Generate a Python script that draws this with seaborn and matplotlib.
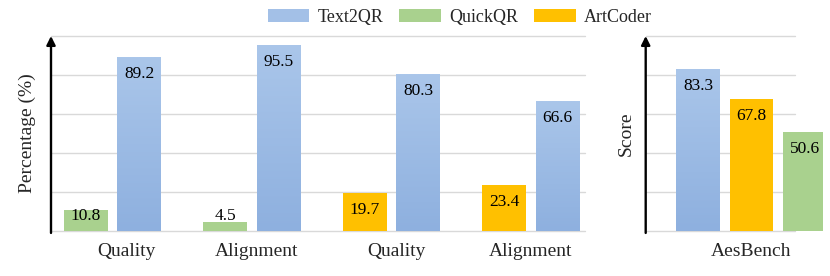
import numpy as np
import pandas as pd
import matplotlib
matplotlib.use('Agg')
import matplotlib.pyplot as plt
import seaborn as sns
from matplotlib.patches import Patch
from matplotlib.colors import LinearSegmentedColormap

# data
groups = ['Quality', 'Alignment', 'Quality', 'Alignment']
baseline_methods = ['QuickQR', 'QuickQR', 'ArtCoder', 'ArtCoder']
baseline_values = [10.8, 4.5, 19.7, 23.4]
text2qr_values = [89.2, 95.5, 80.3, 66.6]

aes_methods = ['Text2QR', 'ArtCoder', 'QuickQR']
aes_scores = [83.3, 67.8, 50.6]

legend_order = ['Text2QR', 'QuickQR', 'ArtCoder']
colors = {'Text2QR': '#a3c0e7', 'QuickQR': '#a9d18e', 'ArtCoder': '#ffc000'}
blue_grad = LinearSegmentedColormap.from_list('blue', ['#8eb0df', '#aac6ea'])

sns.set_style('white')
plt.rcParams['font.family'] = ['Liberation Serif', 'DejaVu Serif']

fig = plt.figure(figsize=(8.3, 2.76), dpi=100)
ax1 = fig.add_axes([51 / 830, 45 / 276, 534 / 830, 195 / 276])
ax2 = fig.add_axes([645.7 / 830, 45 / 276, 177.3 / 830, 195 / 276])

# left panel
n = len(groups)
df = pd.DataFrame({
    'gid': [f'g{i}' for i in range(n)] * 2,
    'value': baseline_values + text2qr_values,
    'slot': ['baseline'] * n + ['Text2QR'] * n,
})
sns.barplot(data=df, x='gid', y='value', hue='slot', hue_order=['baseline', 'Text2QR'],
            width=0.767, gap=0.18, saturation=1, errorbar=None, legend=False, ax=ax1)

for bar, m in zip(ax1.containers[0], baseline_methods):
    bar.set_facecolor(colors[m])
    bar.set_edgecolor('none')


def gradient(ax, bar):
    x0, y0 = bar.get_x(), bar.get_y()
    w, h = bar.get_width(), bar.get_height()
    g = np.linspace(0, 1, 100).reshape(-1, 1)
    im = ax.imshow(g, extent=[x0, x0 + w, y0, y0 + h], origin='lower', cmap=blue_grad,
                   aspect='auto', zorder=bar.get_zorder() + 0.1)
    im.set_clip_path(bar)
    bar.set_edgecolor('none')


for bar in ax1.containers[1]:
    gradient(ax1, bar)


def label_bars(ax, bars):
    for bar in bars:
        h = bar.get_height()
        ax.text(bar.get_x() + bar.get_width() / 2, max(h - 8.7, 7.7), f'{h:.1f}',
                ha='center', va='center', fontsize=12.5, color='black', zorder=5)


label_bars(ax1, ax1.containers[0])
label_bars(ax1, ax1.containers[1])

ax1.set_xlim(-0.441, 3.387)
ax1.set_xticks([0.1, 1.03, 2.035, 3.0])
ax1.set_xticklabels(groups, fontsize=14)
ax1.set_ylabel('Percentage (%)', fontsize=14, labelpad=11)
ax1.set_xlabel('')

# right panel
sns.barplot(x=aes_methods, y=aes_scores, hue=aes_methods, hue_order=aes_methods,
            palette=[colors[m] for m in aes_methods], width=0.83, saturation=1,
            errorbar=None, legend=False, ax=ax2)
for c in ax2.containers:
    for bar in c:
        bar.set_edgecolor('none')
gradient(ax2, ax2.containers[0][0])
for c in ax2.containers:
    label_bars(ax2, c)

ax2.set_xlim(-0.996, 2.349)
ax2.set_xticks([1])
ax2.set_xticklabels(['AesBench'], fontsize=14)
ax2.set_ylabel('Score', fontsize=14, labelpad=8)

for ax, gmax in [(ax1, 1.0), (ax2, (795 - 645.7) / 177.3)]:
    ax.set_ylim(0, 100)
    ax.set_yticks([])
    for y in range(0, 101, 20):
        ax.axhline(y, xmin=0, xmax=gmax, color='#d9d9d9', lw=1, zorder=0, clip_on=False)
    for s in ax.spines.values():
        s.set_visible(False)
    ax.tick_params(axis='x', length=0, pad=9)
    ax.annotate('', xy=(0, 1.0), xytext=(0, -0.01), xycoords='axes fraction',
                arrowprops=dict(arrowstyle='-|>', lw=1.7, color='black', mutation_scale=13,
                                shrinkA=0, shrinkB=0), annotation_clip=False)

handles = [Patch(facecolor=colors[m], edgecolor='none') for m in legend_order]
fig.legend(handles, legend_order, loc='center', bbox_to_anchor=(0.554, 0.938), ncol=3,
           frameon=False, fontsize=13, handlelength=2.3, handleheight=0.75,
           handletextpad=0.45, columnspacing=0.9)

fig.savefig('out.png', dpi=100)
